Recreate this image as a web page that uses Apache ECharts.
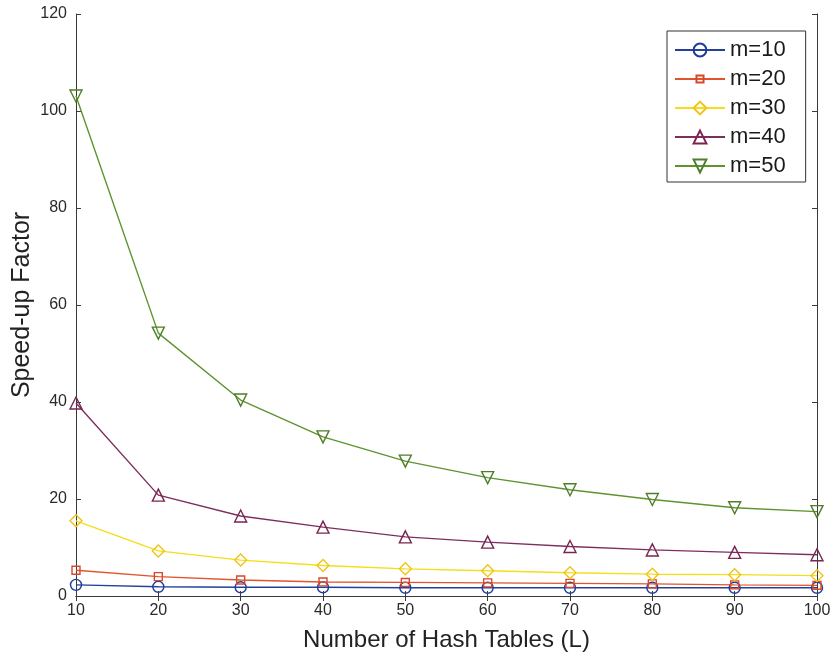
<!DOCTYPE html>
<html>
<head>
<meta charset="utf-8">
<script src="https://cdn.jsdelivr.net/npm/echarts@6/dist/echarts.min.js"></script>
<style>
  html, body { margin: 0; padding: 0; background: #fff; }
  #chart { width: 835px; height: 658px; }
</style>
</head>
<body>
<div id="chart"></div>
<script>
// Number of hash tables L
const tables = [10, 20, 30, 40, 50, 60, 70, 80, 90, 100];

// Speed-up factor for each code length m
const m10 = [2.3, 1.9, 1.8, 1.8, 1.7, 1.7, 1.7, 1.7, 1.7, 1.7];
const m20 = [5.3, 4.0, 3.3, 2.9, 2.8, 2.7, 2.6, 2.5, 2.3, 2.2];
const m30 = [15.5, 9.3, 7.4, 6.3, 5.6, 5.2, 4.8, 4.5, 4.4, 4.2];
const m40 = [39.8, 20.8, 16.5, 14.2, 12.2, 11.1, 10.2, 9.5, 9.0, 8.5];
const m50 = [103.1, 54.2, 40.4, 32.8, 27.8, 24.4, 21.9, 19.9, 18.2, 17.4];

const seriesNames = ['m=10', 'm=20', 'm=30', 'm=40', 'm=50'];
const seriesData = [m10, m20, m30, m40, m50];

const lineColors = ['#23409a', '#e2542c', '#f4de18', '#7c2f5e', '#5f9330'];
const markerColors = ['#1d3c9a', '#d9472a', '#f0c41a', '#7a2452', '#4f7e2a'];
// Hollow markers; the square sits inside a padded box so it stays small in the legend
const markers = [
  'circle',
  'path://M0,0 M20,20 M4.5,4.5 L15.5,4.5 L15.5,15.5 L4.5,15.5 Z',
  'path://M5,0 L10,5 L5,10 L0,5 Z',
  'path://M5,0 L10,10 L0,10 Z',
  'path://M0,0 L10,0 L5,10 Z'
];
const markerSizes = [11, 14.5, 12, 12, 12];

const chart = echarts.init(document.getElementById('chart'), null, { renderer: 'canvas' });

const font = 'Liberation Sans, Arial, Helvetica, sans-serif';
const axisColor = '#3a3a3a';

const series = seriesNames.map((name, i) => ({
  name: name,
  type: 'line',
  xAxisIndex: 0,
  yAxisIndex: 0,
  data: tables.map((x, j) => [x, seriesData[i][j]]),
  symbol: markers[i],
  symbolSize: markerSizes[i],
  showAllSymbol: true,
  lineStyle: { color: lineColors[i], width: 1.4 },
  itemStyle: { color: 'rgba(255,255,255,0)', borderColor: markerColors[i], borderWidth: 1.4 },
  emphasis: { disabled: true },
  z: 2 + i
}));

chart.setOption({
  animation: false,
  backgroundColor: '#ffffff',
  grid: { left: 76, right: 18, top: 14, bottom: 62, containLabel: false, outerBoundsMode: 'none' },
  legend: {
    orient: 'vertical',
    left: 667,
    top: 31,
    data: seriesNames,
    itemWidth: 50,
    itemHeight: 16,
    itemGap: 7,
    padding: [8, 20, 5, 7],
    backgroundColor: '#ffffff',
    borderColor: '#333333',
    borderWidth: 1,
    borderRadius: 0,
    textStyle: { fontFamily: font, fontSize: 22, color: '#1a1a1a' },
    selectedMode: false
  },
  xAxis: [
    {
      type: 'value', min: 10, max: 100, interval: 10,
      name: 'Number of Hash Tables (L)', nameLocation: 'middle', nameGap: 32,
      nameMoveOverlap: false,
      nameTextStyle: { fontFamily: font, fontSize: 24, color: '#222' },
      axisLine: { show: true, lineStyle: { color: axisColor, width: 1 } },
      axisTick: { show: true, inside: true, length: 5, lineStyle: { color: axisColor } },
      axisLabel: { fontFamily: font, fontSize: 16, color: '#2a2a2a', margin: 7 },
      splitLine: { show: false }
    },
    {
      type: 'value', min: 10, max: 100, interval: 10, position: 'top',
      axisLine: { show: true, lineStyle: { color: axisColor, width: 1 } },
      axisTick: { show: true, inside: true, length: 5, lineStyle: { color: axisColor } },
      axisLabel: { show: false },
      splitLine: { show: false }
    }
  ],
  yAxis: [
    {
      type: 'value', min: 0, max: 120, interval: 20,
      name: 'Speed-up Factor', nameLocation: 'middle', nameGap: 41,
      nameMoveOverlap: false,
      nameTextStyle: { fontFamily: font, fontSize: 25, color: '#222' },
      axisLine: { show: true, lineStyle: { color: axisColor, width: 1 } },
      axisTick: { show: true, inside: true, length: 5, lineStyle: { color: axisColor } },
      axisLabel: { fontFamily: font, fontSize: 16, color: '#2a2a2a', margin: 9 },
      splitLine: { show: false }
    },
    {
      type: 'value', min: 0, max: 120, interval: 20, position: 'right',
      axisLine: { show: true, lineStyle: { color: axisColor, width: 1 } },
      axisTick: { show: true, inside: true, length: 5, lineStyle: { color: axisColor } },
      axisLabel: { show: false },
      splitLine: { show: false }
    }
  ],
  series: series
});
</script>
</body>
</html>
